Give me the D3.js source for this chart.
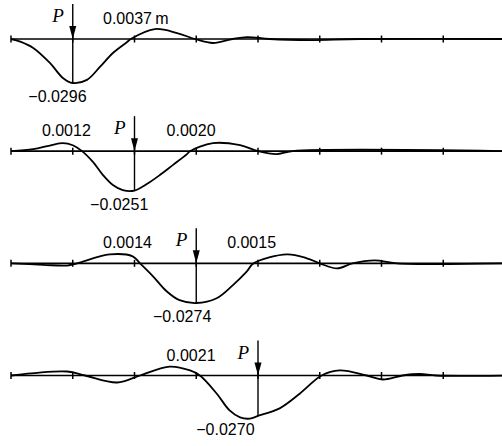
<!DOCTYPE html>
<html lang="en">
<head>
<meta charset="UTF-8">
<title>Deflection lines</title>
<style>
  body { margin: 0; background: #fff; }
  .num { font-family: "Liberation Sans", Arial, sans-serif; font-size: 16px; fill: #000; }
  .load { font-family: "Liberation Serif", "Times New Roman", serif; font-style: italic; font-size: 19px; fill: #000; }
</style>
</head>
<body>
<svg id="svg" width="502" height="446"></svg>

<script src="https://d3js.org/d3.v7.min.js"></script>
<script>
  // station index along the beam (0..8), deflection in m as drawn
  const stations = [0, 1, 2, 3, 4, 5, 6, 7, 8]
  const loadStation = [1, 2, 3, 4]

  const case1 = [[0, 0], [0.15, -0.0018], [0.36, -0.0060], [0.63, -0.0161], [0.84, -0.0262], [1, -0.0296],
    [1.23, -0.0275], [1.44, -0.0188], [1.65, -0.0094], [1.88, -0.0020], [1.94, 0], [2.33, 0.0067],
    [2.69, 0.0040], [2.98, 0], [3.27, -0.0027], [3.59, 0], [3.82, 0.0013], [4.19, 0],
    [4.84, -0.0007], [5.65, 0], [8, 0]]
  const case2 = [[0, 0], [0.36, 0.0013], [0.63, 0.0038], [0.84, 0.0054], [1.0, 0.0040], [1.15, 0],
    [1.33, -0.0074], [1.49, -0.0161], [1.65, -0.0228], [1.81, -0.0262], [2, -0.0265], [2.2, -0.0221],
    [2.41, -0.0161], [2.62, -0.0094], [2.85, -0.0020], [2.9, 0], [3.27, 0.0054], [3.71, 0.0040],
    [4.0, 0], [4.3, -0.0020], [4.56, 0], [8, 0]]
  const case3 = [[0, 0], [0.52, -0.0010], [0.91, -0.0015], [1.07, 0], [1.6, 0.0060], [1.97, 0.0047],
    [2.09, 0], [2.3, -0.0087], [2.52, -0.0188], [2.73, -0.0248], [3, -0.0267], [3.33, -0.0235],
    [3.59, -0.0148], [3.82, -0.0054], [3.93, 0], [4.47, 0.0060], [4.79, 0.0034], [5.0, 0],
    [5.28, -0.0034], [5.53, 0], [5.89, 0.0020], [6.25, 0], [8, 0]]
  const case4 = [[0, 0], [0.91, 0.0027], [1.2, 0], [1.72, -0.0047], [2.09, 0], [2.57, 0.0060],
    [2.9, 0.0034], [3.06, 0], [3.33, -0.0121], [3.54, -0.0235], [3.71, -0.0282], [3.87, -0.0290],
    [4, -0.0272], [4.35, -0.0221], [4.68, -0.0121], [5.03, 0], [5.32, 0.0034], [5.76, 0],
    [6.02, -0.0027], [6.34, 0], [6.62, 0.0010], [6.89, 0], [8, 0]]
  const cases = [case1, case2, case3, case4]

  const minLabels = ['\u22120.0296', '\u22120.0251', '\u22120.0274', '\u22120.0270']
  const peakLabels = [['0.0037\u2009m'], ['0.0012', '0.0020'], ['0.0014', '0.0015'], ['0.0021']]

  // label placement (station units) -- layout only
  const minLabelAt = [0.28, 1.28, 2.3, 3.0]
  const peakLabelAt = [[1.49], [0.5, 2.52], [1.49, 3.5], [2.52]]

  const svg = d3.select('#svg')

  const xScale = d3.scaleLinear().domain([0, 8]).range([11, 505])
  const yScale = d3.scaleLinear().domain([0, -0.0296]).range([0, 44])
  const baseScale = d3.scalePoint().domain(d3.range(4)).range([39, 375.5])

  const line = d3.line()
    .x(d => xScale(d[0]))
    .y(d => yScale(d[1]))
    .curve(d3.curveCatmullRom.alpha(0.5))

  cases.forEach((data, i) => {
    const g = svg.append('g').attr('transform', `translate(0,${baseScale(i)})`)
    const px = xScale(loadStation[i])
    const atP = data.find(d => d[0] === loadStation[i])[1]

    // beam axis
    g.append('line')
      .attr('x1', xScale(0)).attr('x2', 502)
      .attr('y1', 0).attr('y2', 0)
      .attr('stroke', '#000').attr('stroke-width', 1.6)

    g.selectAll('.tick')
      .data(stations)
      .enter()
      .append('line')
      .attr('x1', d => xScale(d)).attr('x2', d => xScale(d))
      .attr('y1', -3.5).attr('y2', 3.5)
      .attr('stroke', '#000').attr('stroke-width', 1.5)

    // deflection curve
    g.append('path')
      .attr('d', line(data))
      .attr('fill', 'none')
      .attr('stroke', '#000')
      .attr('stroke-width', 1.8)

    // load P
    g.append('line')
      .attr('x1', px).attr('x2', px)
      .attr('y1', -35).attr('y2', yScale(atP))
      .attr('stroke', '#000').attr('stroke-width', 1.4)
    g.append('path')
      .attr('d', `M${px},0 L${px - 3.5},-13 L${px + 3.5},-13 Z`)
      .attr('fill', '#000')
    g.append('text')
      .attr('class', 'load')
      .attr('x', px - 9).attr('y', -17)
      .attr('text-anchor', 'end')
      .text('P')

    g.append('text')
      .attr('class', 'num')
      .attr('x', xScale(minLabelAt[i])).attr('y', yScale(atP) + 19)
      .text(minLabels[i])

    g.selectAll('.peak')
      .data(peakLabels[i])
      .enter()
      .append('text')
      .attr('class', 'num')
      .attr('x', (d, j) => xScale(peakLabelAt[i][j]))
      .attr('y', -15)
      .text(d => d)
  })
</script>
</body>
</html>
